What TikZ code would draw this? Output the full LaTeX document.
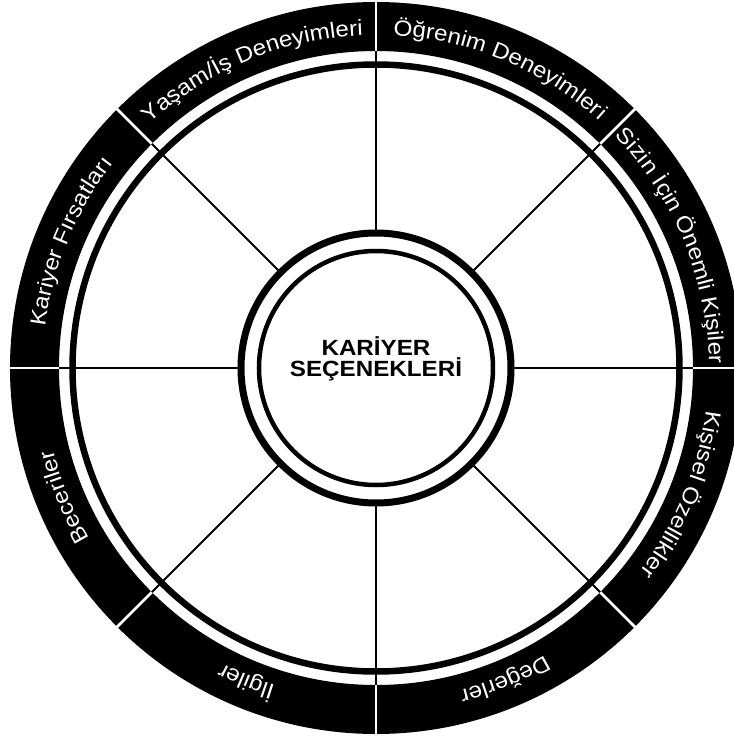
\documentclass[tikz,border=0pt]{standalone}
\usepackage{fontspec}
\setmainfont{Liberation Sans}
\newfontfamily\ringfont[FakeStretch=1.1]{Liberation Sans}
\usetikzlibrary{decorations.text}

% radius of the label baseline in the black ring
\def\labelr{333pt}

\newcommand{\ringlabel}[2]{%
  \path[white, decorate, decoration={text along path, text align=center,
      text={|\ringfont\fontsize{22}{26}\selectfont\color{white}|#2}}]
    (#1:\labelr) arc[start angle=#1, end angle=#1-45, radius=\labelr];}

\begin{document}
\begin{tikzpicture}[
    x=1pt, y=1pt,
    ring/.style={fill=black, even odd rule},
    divider/.style={white, line width=2.5pt},
    spoke/.style={black, line width=2pt},
    band/.style={black, line width=6.5pt},
    hub/.style={black, line width=7pt},
    hubin/.style={black, line width=4.5pt}
]

\fill[white] (-376,-372) rectangle (358,368);
\useasboundingbox (-376,-372) rectangle (358,368);
\clip (-376,-372) rectangle (358,368);

% outer black ring
\fill[ring] (0,0) circle[radius=366pt] (0,0) circle[radius=317pt];

\foreach \a in {0,45,...,315}{
    \draw[divider] (\a:316pt) -- (\a:370pt);
}

\draw[band] (0,0) circle[radius=303.5pt];

\foreach \a in {0,45,...,315}{
    \draw[spoke] (\a:138pt) -- (\a:317pt);
}

% hub
\draw[hub] (0,0) circle[radius=135pt];
\draw[hubin] (0,0) circle[radius=117pt];

\node[align=center, font=\ringfont\bfseries\fontsize{22}{21}\selectfont] (core) at (0,9)
    {KARİYER\\SEÇENEKLERİ};

\ringlabel{135}{Yaşam/İş Deneyimleri}
\ringlabel{90}{Öğrenim Deneyimleri}
\ringlabel{45}{Sizin İçin Önemli Kişiler}
\ringlabel{0}{Kişisel Özellikler}
\ringlabel{-45}{Değerler}
\ringlabel{-90}{İlgiler}
\ringlabel{-135}{Beceriler}
\ringlabel{180}{Kariyer Fırsatları}

\end{tikzpicture}
\end{document}
